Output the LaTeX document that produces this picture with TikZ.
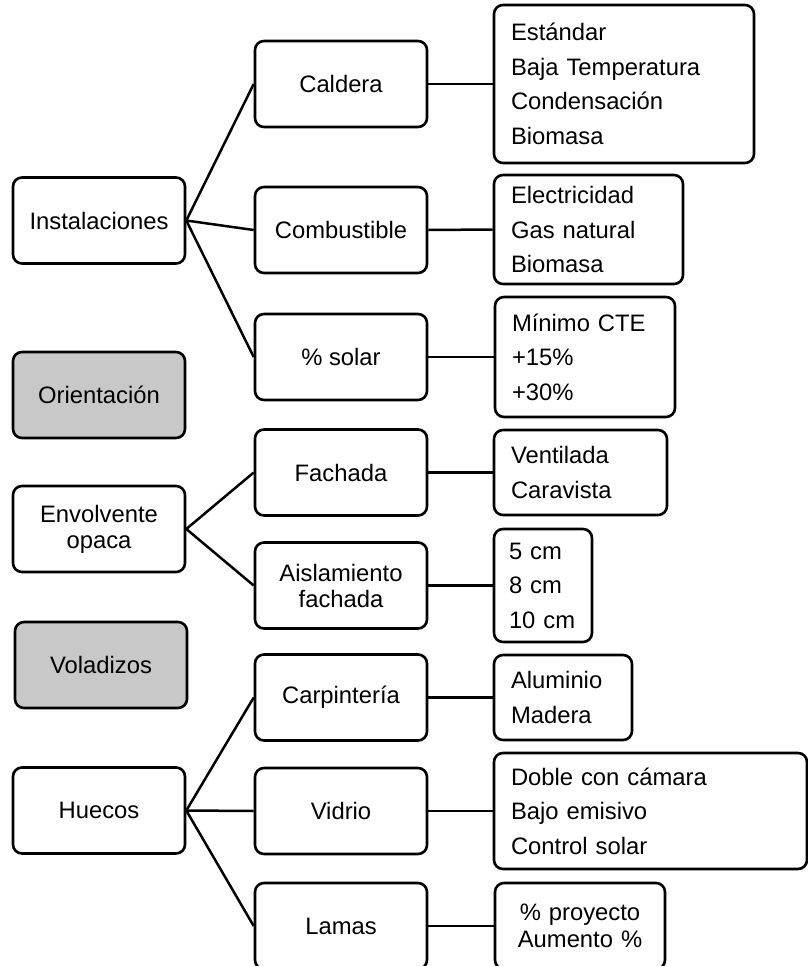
\documentclass[tikz,border=0pt]{standalone}
\usepackage{fontspec}
\setmainfont{Liberation Sans}
\definecolor{boxgray}{RGB}{200,200,200}
\begin{document}
\begin{tikzpicture}[x=1pt,y=-1pt,
  base/.style={draw=black, line width=2.6pt, rounded corners=9pt, fill=white},
  mainbox/.style={base, minimum width=172pt, minimum height=86pt, inner sep=2pt, align=center,
    font=\fontsize{23.8}{26}\selectfont},
  grey/.style={mainbox, fill=boxgray},
  optbox/.style={base, inner xsep=17pt, inner ysep=0pt, align=left,
    font=\fontsize{23.8}{34.5}\selectfont},
  link/.style={line width=2.5pt, draw=black}]
\useasboundingbox (0,0) rectangle (808,966);
% left column
\node[mainbox] (inst) at (99,220.5) {Instalaciones};
\node[grey]    (orie) at (99,395) {Orientación};
\node[mainbox] (envo) at (99,529) {Envolvente\\opaca};
\node[grey]    (vola) at (101,665) {Voladizos};
\node[mainbox] (huec) at (99,810.5) {Huecos};
% middle column
\node[mainbox] (cald) at (341,84) {Caldera};
\node[mainbox] (comb) at (341,230) {Combustible};
\node[mainbox] (sola) at (341,357) {\% solar};
\node[mainbox] (fach) at (341,472.5) {Fachada};
\node[mainbox] (aisl) at (341,585.5) {Aislamiento\\fachada};
\node[mainbox] (carp) at (341,697.5) {Carpintería};
\node[mainbox] (vidr) at (341,811) {Vidrio};
\node[mainbox] (lama) at (341,926) {Lamas};
% right column
\node[optbox, text width=226pt, minimum height=158pt] (ocald) at (624,84)
  {Estándar\\Baja Temperatura\\Condensación\\Biomasa};
\node[optbox, text width=155pt, minimum height=109pt] (ocomb) at (588.5,229.5)
  {Electricidad\\Gas natural\\Biomasa};
\node[optbox, text width=146pt, minimum height=120pt] (osola) at (585,357)
  {Mínimo CTE\\+15\%\\+30\%};
\node[optbox, text width=139pt, minimum height=85pt] (ofach) at (580.5,472.5)
  {Ventilada\\Caravista};
\node[optbox, inner xsep=15pt, text width=68pt, minimum height=113pt] (oaisl) at (543,585.5)
  {5~cm\\8~cm\\10~cm};
\node[optbox, text width=104pt, minimum height=85pt] (ocarp) at (563,697.5)
  {Aluminio\\Madera};
\node[optbox, text width=279pt, minimum height=116pt] (ovidr) at (650.5,811)
  {Doble con cámara\\Bajo emisivo\\Control solar};
\node[optbox, text width=136pt, minimum height=86pt, align=center,
  font=\fontsize{23.8}{27}\selectfont] (olama) at (580,926)
  {\% proyecto\\Aumento \%};
% connectors
\draw[link] (inst.east) -- (cald.west);
\draw[link] (inst.east) -- (comb.west);
\draw[link] (inst.east) -- (sola.west);
\draw[link] (envo.east) -- (fach.west);
\draw[link] (envo.east) -- (aisl.west);
\draw[link] (huec.east) -- (carp.west);
\draw[link] (huec.east) -- (vidr.west);
\draw[link] (huec.east) -- (lama.west);
\draw[link] (cald.east) -- (ocald.west);
\draw[link] (comb.east) -- (ocomb.west);
\draw[link] (sola.east) -- (osola.west);
\draw[link] (fach.east) -- (ofach.west);
\draw[link] (aisl.east) -- (oaisl.west);
\draw[link] (carp.east) -- (ocarp.west);
\draw[link] (vidr.east) -- (ovidr.west);
\draw[link] (lama.east) -- (olama.west);
\end{tikzpicture}
\end{document}
